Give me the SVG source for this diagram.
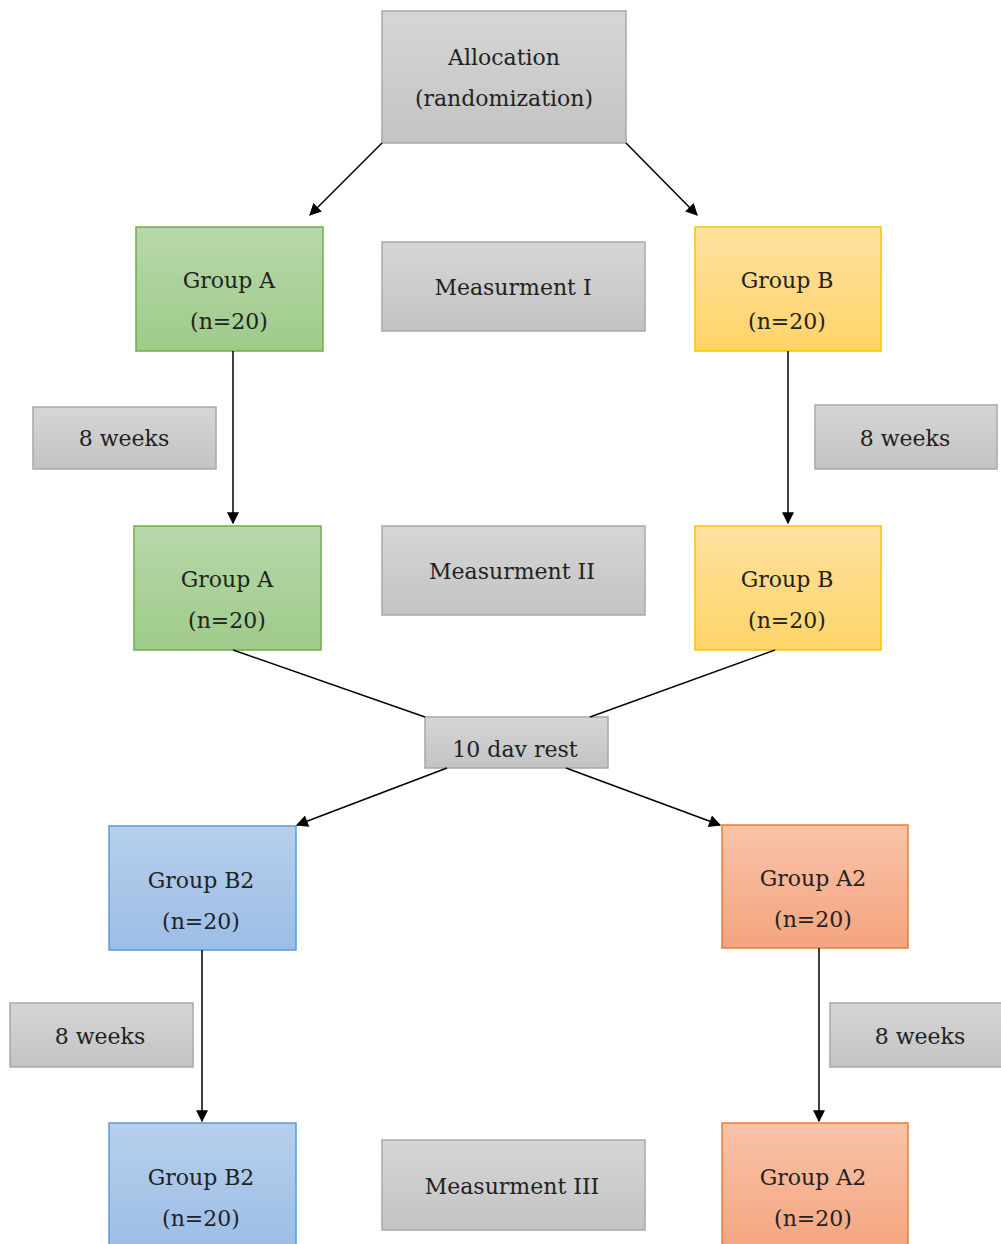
<svg xmlns="http://www.w3.org/2000/svg" width="1001" height="1244" viewBox="0 0 1001 1244">
<defs>
<linearGradient id="gGray" x1="0" y1="0" x2="0" y2="1"><stop offset="0" stop-color="#d6d6d6"/><stop offset="1" stop-color="#c3c3c3"/></linearGradient>
<linearGradient id="gGreen" x1="0" y1="0" x2="0" y2="1"><stop offset="0" stop-color="#b7d8aa"/><stop offset="1" stop-color="#9fcb8a"/></linearGradient>
<linearGradient id="gYellow" x1="0" y1="0" x2="0" y2="1"><stop offset="0" stop-color="#ffe1a0"/><stop offset="1" stop-color="#ffd468"/></linearGradient>
<linearGradient id="gBlue" x1="0" y1="0" x2="0" y2="1"><stop offset="0" stop-color="#b6cfec"/><stop offset="1" stop-color="#9cbde6"/></linearGradient>
<linearGradient id="gOrange" x1="0" y1="0" x2="0" y2="1"><stop offset="0" stop-color="#f8c3a8"/><stop offset="1" stop-color="#f4a47f"/></linearGradient>
<marker id="arr" viewBox="0 0 10 10" refX="9" refY="5" markerWidth="13" markerHeight="12" markerUnits="userSpaceOnUse" orient="auto"><path d="M0,0 L10,5 L0,10 z" fill="#000"/></marker>
</defs>
<style>
.gray{fill:url(#gGray);stroke:#a8a8a8;stroke-width:1.5}
.green{fill:url(#gGreen);stroke:#70ad47;stroke-width:1.5}
.yellow{fill:url(#gYellow);stroke:#ffc000;stroke-width:1.5}
.blue{fill:url(#gBlue);stroke:#5b9bd5;stroke-width:1.5}
.orange{fill:url(#gOrange);stroke:#ed7d31;stroke-width:1.5}
text{font-family:"DejaVu Serif","Liberation Serif",serif;font-size:22px;fill:#222;text-anchor:middle}
.conn line{stroke:#000;stroke-width:1.5}
</style>
<rect width="1001" height="1244" fill="#fff"/>
<g id="allocation"><rect class="gray" x="382" y="11" width="244" height="132"/><text x="504" y="65">Allocation</text><text x="504" y="106">(randomization)</text></g>
<g id="groupA1"><rect class="green" x="136" y="227" width="187" height="124"/><text x="229" y="288">Group A</text><text x="229" y="329">(n=20)</text></g>
<g id="meas1"><rect class="gray" x="382" y="242" width="263" height="89"/><text x="513" y="295">Measurment I</text></g>
<g id="groupB1"><rect class="yellow" x="695" y="227" width="186" height="124"/><text x="787" y="288">Group B</text><text x="787" y="329">(n=20)</text></g>
<g id="weeks1"><rect class="gray" x="33" y="407" width="183" height="62"/><text x="124" y="446">8 weeks</text></g>
<g id="weeks2"><rect class="gray" x="815" y="405" width="182" height="64"/><text x="905" y="446">8 weeks</text></g>
<g id="groupA2"><rect class="green" x="134" y="526" width="187" height="124"/><text x="227" y="587">Group A</text><text x="227" y="628">(n=20)</text></g>
<g id="meas2"><rect class="gray" x="382" y="526" width="263" height="89"/><text x="512" y="579">Measurment II</text></g>
<g id="groupB2"><rect class="yellow" x="695" y="526" width="186" height="124"/><text x="787" y="587">Group B</text><text x="787" y="628">(n=20)</text></g>
<g id="rest"><rect class="gray" x="425" y="717" width="183" height="51"/><text x="515" y="757">10 dav rest</text></g>
<g id="groupB2a"><rect class="blue" x="109" y="826" width="187" height="124"/><text x="201" y="888">Group B2</text><text x="201" y="929">(n=20)</text></g>
<g id="groupA2a"><rect class="orange" x="722" y="825" width="186" height="123"/><text x="813" y="886">Group A2</text><text x="813" y="927">(n=20)</text></g>
<g id="weeks3"><rect class="gray" x="10" y="1003" width="183" height="64"/><text x="100" y="1044">8 weeks</text></g>
<g id="weeks4"><rect class="gray" x="830" y="1003" width="182" height="64"/><text x="920" y="1044">8 weeks</text></g>
<g id="groupB2b"><rect class="blue" x="109" y="1123" width="187" height="130"/><text x="201" y="1185">Group B2</text><text x="201" y="1226">(n=20)</text></g>
<g id="meas3"><rect class="gray" x="382" y="1140" width="263" height="90"/><text x="512" y="1194">Measurment III</text></g>
<g id="groupA2b"><rect class="orange" x="722" y="1123" width="186" height="130"/><text x="813" y="1185">Group A2</text><text x="813" y="1226">(n=20)</text></g>
<g class="conn" id="connectors">
<line x1="382" y1="143" x2="310" y2="215" marker-end="url(#arr)"/>
<line x1="626" y1="143" x2="697" y2="215" marker-end="url(#arr)"/>
<line x1="233" y1="351" x2="233" y2="523" marker-end="url(#arr)"/>
<line x1="788" y1="351" x2="788" y2="523" marker-end="url(#arr)"/>
<line x1="233" y1="650" x2="425" y2="717"/>
<line x1="775" y1="650" x2="590" y2="717"/>
<line x1="447" y1="768" x2="297" y2="825" marker-end="url(#arr)"/>
<line x1="566" y1="768" x2="720" y2="825" marker-end="url(#arr)"/>
<line x1="202" y1="950" x2="202" y2="1121" marker-end="url(#arr)"/>
<line x1="819" y1="948" x2="819" y2="1121" marker-end="url(#arr)"/>
</g>
</svg>
